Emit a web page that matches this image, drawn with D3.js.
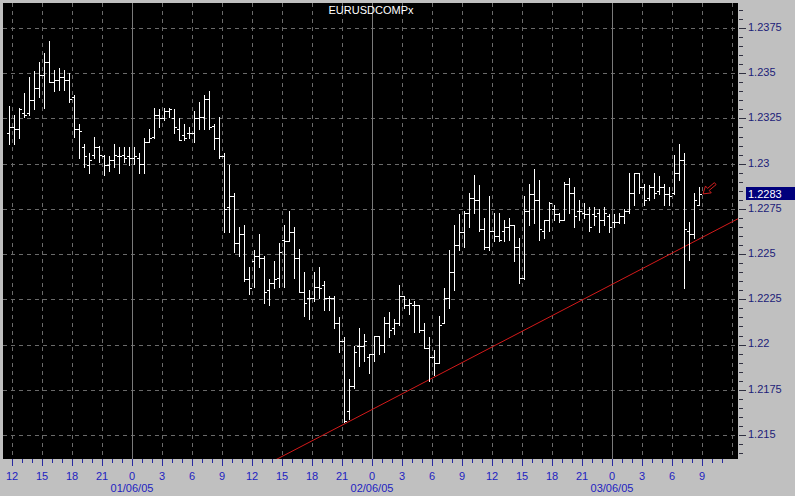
<!DOCTYPE html>
<html><head><meta charset="utf-8">
<script src="https://cdn.jsdelivr.net/npm/d3@7"></script>
<style>html,body{margin:0;padding:0;background:#c0c0c0;}svg{display:block;}</style>
</head><body>
<svg id="c" width="795" height="496"></svg>
<script>
const title = "EURUSDCOMPx";
const firstBarTime = "2005-05-31T11:30:00Z"; // 30-minute bars
const barMinutes = 30;
const open = [1.2317,1.2320,1.2319,1.2328,1.2328,1.2335,1.2342,1.2349,1.2356,1.2345,
1.2346,1.2348,1.2346,1.2337,1.2319,1.2309,1.2299,1.2305,1.2309,1.2304,
1.2299,1.2302,1.2304,1.2305,1.2304,1.2303,1.2303,1.2300,1.2312,1.2315,
1.2327,1.2325,1.2329,1.2325,1.2319,1.2316,1.2317,1.2317,1.2325,1.2326,
1.2336,1.2321,1.2314,1.2304,1.2276,1.2282,1.2256,1.2261,1.2236,1.2246,
1.2249,1.2248,1.2230,1.2234,1.2237,1.2258,1.2257,1.2262,1.2248,1.2229,
1.2226,1.2226,1.2232,1.2233,1.2226,1.2226,1.2212,1.2202,1.2163,1.2177,
1.2199,1.2199,1.2193,1.2195,1.2205,1.2200,1.2212,1.2209,1.2212,1.2227,
1.2222,1.2222,1.2222,1.2208,1.2198,1.2193,1.2190,1.2212,1.2226,1.2240,
1.2255,1.2262,1.2273,1.2281,1.2280,1.2264,1.2254,1.2263,1.2260,1.2263,
1.2265,1.2266,1.2254,1.2237,1.2274,1.2283,1.2280,1.2263,1.2269,1.2275,
1.2272,1.2269,1.2289,1.2284,1.2274,1.2273,1.2272,1.2272,1.2273,1.2269,
1.2271,1.2268,1.2268,1.2271,1.2274,1.2284,1.2295,1.2287,1.2281,1.2287,
1.2285,1.2287,1.2283,1.2284,1.2295,1.2302,1.2263,1.2261,1.2277];
const high = [1.2332,1.2327,1.2331,1.2339,1.2348,1.2351,1.2356,1.2361,1.2368,1.2352,
1.2353,1.2352,1.2350,1.2338,1.2322,1.2311,1.2306,1.2315,1.2310,1.2305,
1.2304,1.2311,1.2309,1.2309,1.2309,1.2309,1.2306,1.2314,1.2319,1.2331,
1.2330,1.2331,1.2331,1.2330,1.2325,1.2322,1.2320,1.2329,1.2334,1.2338,
1.2340,1.2322,1.2326,1.2306,1.2299,1.2284,1.2265,1.2266,1.2243,1.2252,
1.2261,1.2249,1.2236,1.2246,1.2256,1.2266,1.2274,1.2265,1.2253,1.2240,
1.2230,1.2240,1.2243,1.2235,1.2227,1.2227,1.2215,1.2204,1.2181,1.2199,
1.2209,1.2206,1.2195,1.2205,1.2205,1.2215,1.2218,1.2214,1.2233,1.2227,
1.2225,1.2224,1.2222,1.2212,1.2204,1.2197,1.2216,1.2231,1.2252,1.2266,
1.2272,1.2274,1.2284,1.2294,1.2288,1.2270,1.2282,1.2273,1.2273,1.2269,
1.2270,1.2266,1.2259,1.2282,1.2289,1.2297,1.2291,1.2269,1.2279,1.2277,
1.2273,1.2290,1.2292,1.2287,1.2280,1.2278,1.2276,1.2276,1.2275,1.2276,
1.2272,1.2272,1.2273,1.2275,1.2295,1.2295,1.2295,1.2289,1.2288,1.2295,
1.2293,1.2289,1.2287,1.2305,1.2311,1.2306,1.2268,1.2284,1.2287];
const low = [1.2311,1.2311,1.2314,1.2326,1.2327,1.2330,1.2337,1.2331,1.2345,1.2340,
1.2341,1.2341,1.2334,1.2315,1.2303,1.2298,1.2295,1.2303,1.2301,1.2294,
1.2296,1.2298,1.2295,1.2301,1.2299,1.2300,1.2295,1.2295,1.2312,1.2314,
1.2320,1.2324,1.2326,1.2317,1.2313,1.2313,1.2314,1.2312,1.2319,1.2319,
1.2319,1.2308,1.2303,1.2262,1.2262,1.2251,1.2249,1.2235,1.2228,1.2232,
1.2243,1.2223,1.2222,1.2231,1.2232,1.2232,1.2257,1.2237,1.2229,1.2216,
1.2214,1.2224,1.2226,1.2219,1.2219,1.2209,1.2196,1.2157,1.2159,1.2176,
1.2188,1.2191,1.2184,1.2191,1.2195,1.2196,1.2204,1.2206,1.2211,1.2220,
1.2217,1.2207,1.2207,1.2198,1.2180,1.2183,1.2190,1.2212,1.2220,1.2230,
1.2252,1.2254,1.2265,1.2273,1.2263,1.2253,1.2252,1.2257,1.2257,1.2257,
1.2258,1.2246,1.2234,1.2236,1.2266,1.2267,1.2258,1.2259,1.2263,1.2269,
1.2268,1.2269,1.2273,1.2265,1.2269,1.2270,1.2263,1.2266,1.2262,1.2266,
1.2262,1.2265,1.2267,1.2267,1.2273,1.2277,1.2284,1.2277,1.2280,1.2281,
1.2283,1.2277,1.2277,1.2283,1.2291,1.2231,1.2247,1.2259,1.2277];
const close = [1.2320,1.2319,1.2330,1.2327,1.2335,1.2342,1.2349,1.2356,1.2345,1.2346,
1.2348,1.2346,1.2336,1.2319,1.2318,1.2304,1.2302,1.2309,1.2305,1.2299,
1.2302,1.2305,1.2304,1.2303,1.2303,1.2304,1.2300,1.2312,1.2314,1.2327,
1.2325,1.2329,1.2330,1.2320,1.2313,1.2314,1.2317,1.2325,1.2326,1.2336,
1.2320,1.2314,1.2304,1.2275,1.2282,1.2256,1.2261,1.2236,1.2231,1.2249,
1.2248,1.2229,1.2234,1.2236,1.2251,1.2257,1.2262,1.2248,1.2229,1.2223,
1.2226,1.2232,1.2231,1.2226,1.2226,1.2212,1.2202,1.2158,1.2177,1.2196,
1.2199,1.2202,1.2195,1.2205,1.2200,1.2212,1.2208,1.2212,1.2227,1.2222,
1.2223,1.2222,1.2208,1.2198,1.2193,1.2190,1.2211,1.2226,1.2240,1.2255,
1.2262,1.2273,1.2281,1.2280,1.2264,1.2254,1.2263,1.2260,1.2258,1.2265,
1.2266,1.2254,1.2237,1.2274,1.2283,1.2280,1.2264,1.2269,1.2278,1.2272,
1.2269,1.2289,1.2284,1.2271,1.2274,1.2272,1.2265,1.2271,1.2269,1.2273,
1.2265,1.2268,1.2271,1.2274,1.2284,1.2295,1.2287,1.2280,1.2287,1.2284,
1.2287,1.2283,1.2282,1.2295,1.2302,1.2264,1.2261,1.2280,1.2283];
const priceTicks = [1.215, 1.2175, 1.22, 1.2225, 1.225, 1.2275, 1.23, 1.2325, 1.235, 1.2375];
const dateLabels = ["01/06/05", "02/06/05", "03/06/05"];
const lastPrice = 1.2283;
const trendBars = [67, 135];
const trendPrices = [1.2156, 1.2254];

// ---------- layout ----------
const W = 795, H = 496;
const plot = {l: 3, r: 738, t: 3, b: 459};
const svg = d3.select("#c");
const FONT = "'Liberation Sans', Arial, sans-serif";

const t0 = new Date("2005-05-31T12:00:00Z");
const t1 = new Date("2005-06-03T12:00:00Z");
const x = d3.scaleUtc().domain([t0, t1]).range([12, 732]);
const y = d3.scaleLinear().domain([1.215, 1.2375]).range([435, 28]);

const start = new Date(firstBarTime);
const bars = open.map((o, i) => ({
  t: new Date(+start + i * barMinutes * 60000),
  o, h: high[i], l: low[i], c: close[i]
}));
const bx = d => Math.round(x(d.t)) + 2;
const ry = v => Math.round(y(v));

svg.append("rect").attr("width", W).attr("height", H).attr("fill", "#c0c0c0");
svg.append("rect").attr("x", plot.l).attr("y", plot.t)
  .attr("width", plot.r - plot.l).attr("height", plot.b - plot.t).attr("fill", "#000");

svg.append("clipPath").attr("id", "clip").append("rect")
  .attr("x", plot.l).attr("y", plot.t).attr("width", plot.r - plot.l).attr("height", plot.b - plot.t);

const grid = svg.append("g").attr("shape-rendering", "crispEdges");
// horizontal grid
grid.selectAll("line.h").data(priceTicks).join("line")
  .attr("x1", plot.l).attr("x2", plot.r)
  .attr("y1", d => ry(d) + 0.5).attr("y2", d => ry(d) + 0.5)
  .attr("stroke", "#6a6a6a").attr("stroke-dasharray", "4,4");
// vertical grid (every 3 hours, solid at midnight)
const gridTimes = d3.utcHour.every(3).range(t0, new Date(+t1 + 1));
grid.selectAll("line.v").data(gridTimes).join("line")
  .attr("x1", d => Math.round(x(d)) + 0.5).attr("x2", d => Math.round(x(d)) + 0.5)
  .attr("y1", plot.t).attr("y2", plot.b)
  .attr("stroke", d => d.getUTCHours() === 0 ? "#7a7a7a" : "#6a6a6a")
  .attr("stroke-dasharray", d => d.getUTCHours() === 0 ? null : "4,4");

// title
svg.append("text").attr("x", 371).attr("y", 14).attr("text-anchor", "middle")
  .attr("font-family", FONT).attr("font-size", 11).attr("fill", "#fff").text(title);

// trend line
const tx1 = bx(bars[trendBars[0]]), tx2 = bx(bars[trendBars[1]]);
const ty1 = y(trendPrices[0]), ty2 = y(trendPrices[1]);
const slope = (ty2 - ty1) / (tx2 - tx1);
svg.append("line").attr("clip-path", "url(#clip)")
  .attr("x1", plot.l).attr("y1", ty1 + slope * (plot.l - tx1))
  .attr("x2", plot.r).attr("y2", ty1 + slope * (plot.r - tx1))
  .attr("stroke", "#d41a1a").attr("stroke-width", 1);

// OHLC bars
const gb = svg.append("g").attr("fill", "#fff").attr("shape-rendering", "crispEdges");
const g = gb.selectAll("g").data(bars).join("g");
g.append("rect").attr("x", d => bx(d)).attr("y", d => ry(d.h))
  .attr("width", 1).attr("height", d => ry(d.l) - ry(d.h) + 1);
g.append("rect").attr("x", d => bx(d) - 2).attr("y", d => ry(d.o)).attr("width", 2).attr("height", 1);
g.append("rect").attr("x", d => bx(d) + 1).attr("y", d => ry(d.c)).attr("width", 2).attr("height", 1);

// red arrow pointing at last bar
const lastBar = bars[bars.length - 1];
svg.append("path")
  .attr("d", "M0,0 L-7,-4.5 L-7,-1.3 L-16,-1.3 L-16,1.3 L-7,1.3 L-7,4.5 Z")
  .attr("transform", `translate(${bx(lastBar) + 4},${y(lastBar.c) - 0.5}) rotate(140)`)
  .attr("fill", "none").attr("stroke", "#d42020").attr("stroke-width", 0.9);

// right price axis
const axR = svg.append("g").attr("shape-rendering", "crispEdges");
const minorTicks = d3.range(1.2140, 1.23901, 0.0005).filter(v => y(v) >= plot.t && y(v) <= plot.b);
axR.selectAll("line.m").data(minorTicks).join("line")
  .attr("x1", plot.r + 1).attr("x2", plot.r + 5)
  .attr("y1", d => ry(d) + 0.5).attr("y2", d => ry(d) + 0.5)
  .attr("stroke", "#303040");
axR.selectAll("line.M").data(priceTicks).join("line")
  .attr("x1", plot.r + 1).attr("x2", plot.r + 8)
  .attr("y1", d => ry(d) + 0.5).attr("y2", d => ry(d) + 0.5)
  .attr("stroke", "#303040");
svg.append("g").selectAll("text").data(priceTicks).join("text")
  .attr("x", 748).attr("y", d => y(d) - 1).attr("dy", "0.35em")
  .attr("font-family", FONT).attr("font-size", 11).attr("fill", "#1c1c78")
  .text(d => String(d));

// last price marker
const ly = y(lastPrice);
svg.append("rect").attr("x", 746).attr("y", Math.round(ly) - 7).attr("width", W - 746).attr("height", 13)
  .attr("fill", "#00007c").attr("shape-rendering", "crispEdges");
svg.append("text").attr("x", 748).attr("y", ly).attr("dy", "0.35em")
  .attr("font-family", FONT).attr("font-size", 11).attr("fill", "#fff").text(lastPrice.toFixed(4));

// bottom time axis
const axB = svg.append("g").attr("shape-rendering", "crispEdges");
const hourTicks = d3.utcHour.every(1).range(new Date(+t0 - 12 * 3600000), t1).filter(d => x(d) >= plot.l && x(d) <= plot.r);
axB.selectAll("line").data(hourTicks).join("line")
  .attr("x1", d => Math.round(x(d)) + 0.5).attr("x2", d => Math.round(x(d)) + 0.5)
  .attr("y1", plot.b).attr("y2", d => d.getUTCHours() % 3 === 0 ? plot.b + 7 : plot.b + 4)
  .attr("stroke", "#2a2aa0");
const labelTimes = hourTicks.filter(d => d.getUTCHours() % 3 === 0);
svg.append("g").selectAll("text").data(labelTimes).join("text")
  .attr("x", d => x(d)).attr("y", 480).attr("text-anchor", "middle")
  .attr("font-family", FONT).attr("font-size", 11).attr("fill", "#2222c0")
  .text(d => d3.utcFormat("%-H")(d));
const midnights = labelTimes.filter(d => d.getUTCHours() === 0);
svg.append("g").selectAll("text").data(midnights).join("text")
  .attr("x", d => x(d)).attr("y", 492).attr("text-anchor", "middle")
  .attr("font-family", FONT).attr("font-size", 11).attr("fill", "#2222c0")
  .text((d, i) => dateLabels[i]);
</script>
</body></html>
